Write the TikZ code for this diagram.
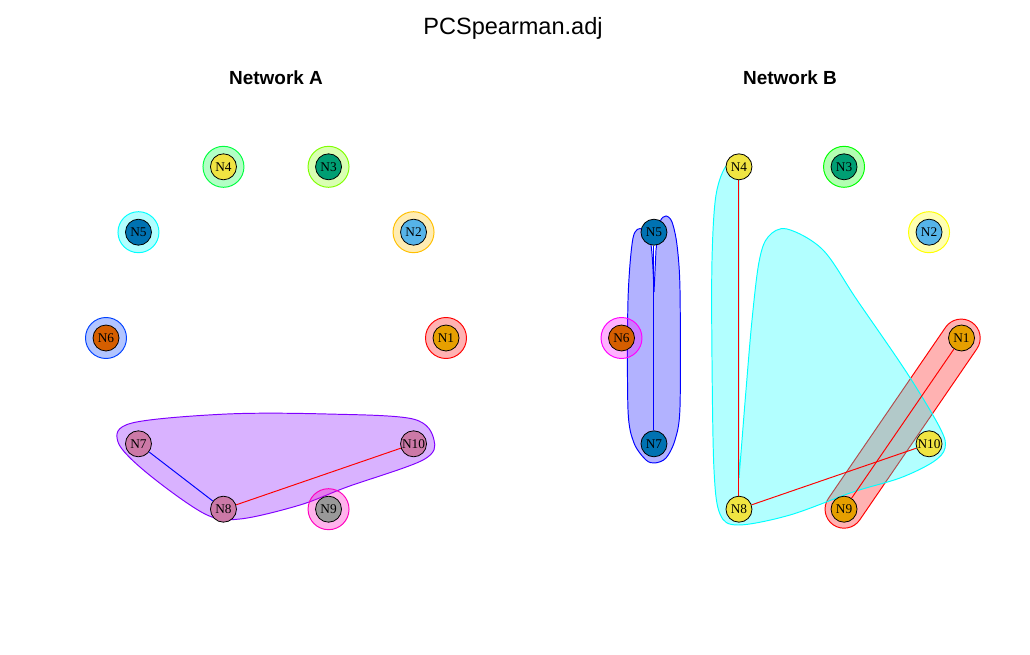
\documentclass[tikz,border=0pt]{standalone}
\usepackage{fontspec}
\setmainfont{Liberation Serif}
\newfontfamily\rsans{Liberation Sans}
\usetikzlibrary{calc}

% node colours
\definecolor{okOrange}{HTML}{E69F00}
\definecolor{okSky}{HTML}{56B4E9}
\definecolor{okGreen}{HTML}{009E73}
\definecolor{okYellow}{HTML}{F0E442}
\definecolor{okBlue}{HTML}{0072B2}
\definecolor{okVerm}{HTML}{D55E00}
\definecolor{okPink}{HTML}{CC79A7}
\definecolor{okGray}{HTML}{999999}
% group colours, network A
\definecolor{rbA1}{HTML}{FF0000}
\definecolor{rbA2}{HTML}{FFBF00}
\definecolor{rbA3}{HTML}{80FF00}
\definecolor{rbA4}{HTML}{00FF40}
\definecolor{rbA5}{HTML}{00FFFF}
\definecolor{rbA6}{HTML}{0040FF}
\definecolor{rbA7}{HTML}{8000FF}
\definecolor{rbA8}{HTML}{FF00BF}
% group colours, network B
\definecolor{rbB1}{HTML}{FF0000}
\definecolor{rbB2}{HTML}{FFFF00}
\definecolor{rbB3}{HTML}{00FF00}
\definecolor{rbB4}{HTML}{00FFFF}
\definecolor{rbB5}{HTML}{0000FF}
\definecolor{rbB6}{HTML}{FF00FF}

\pgfdeclarelayer{blob}
\pgfdeclarelayer{link}
\pgfsetlayers{blob,link,main}

\begin{document}
\begin{tikzpicture}[x=0.02cm,y=-0.02cm,
  vert/.style={circle,draw=black,line width=0.45pt,minimum size=0.52cm,inner sep=0pt,
    font=\fontsize{7.6}{7.6}\selectfont},
  grp/.style={draw=#1,fill=#1,fill opacity=0.3,line width=0.55pt},
  link/.style={line width=0.55pt}]
  \useasboundingbox (0,0) rectangle (1030,655);
  % Layout of the circle
  \def\cxA{276}
  \def\cxB{791.5}
  \def\cy{338}
  \def\rx{170}
  \def\ry{180}

  % Titles
  \node[anchor=base] (title) at (513,35) {\rsans\fontsize{13.4}{16}\selectfont PCSpearman.adj};
  \node[anchor=base] (titleA) at (276,85) {\rsans\bfseries\fontsize{10.8}{13}\selectfont Network A};
  \node[anchor=base] (titleB) at (790,85) {\rsans\bfseries\fontsize{10.8}{13}\selectfont Network B};

  % Network A: vertices on a circle
  \foreach \i/\c in {1/okOrange,2/okSky,3/okGreen,4/okYellow,5/okBlue,6/okVerm,7/okPink,8/okPink,9/okGray,10/okPink}
    \node[vert,fill=\c] (a\i) at ({\cxA+\rx*cos(36*(\i-1))},{\cy-\ry*sin(36*(\i-1))}) {N\i};

  % Network B: vertices on a circle
  \foreach \i/\c in {1/okOrange,2/okSky,3/okGreen,4/okYellow,5/okBlue,6/okVerm,7/okBlue,8/okYellow,9/okOrange,10/okYellow}
    \node[vert,fill=\c] (b\i) at ({\cxB+\rx*cos(36*(\i-1))},{\cy-\ry*sin(36*(\i-1))}) {N\i};

  % Groups of network A
  \begin{pgfonlayer}{blob}
    \foreach \i/\c in {1/rbA1,2/rbA2,3/rbA3,4/rbA4,5/rbA5,6/rbA6}
      \draw[grp=\c] (a\i) circle[radius=0.41cm];
    \draw[grp=rbA7] plot[smooth cycle, tension=0.55] coordinates {(118,442) (132,423) (227,414) (327,414)
      (413,419) (434,440) (423,460) (347,487) (300,505) (240,519) (205,514) (147,473)};
    \draw[grp=rbA8] (a9) circle[radius=0.41cm];
  \end{pgfonlayer}

  % Groups of network B
  \begin{pgfonlayer}{blob}
    \draw[grp=rbB1] (b9) ++(34.4:19) -- ++(-55.6:207.4) arc[start angle=34.4, end angle=-145.6, radius=19]
      -- ++(124.4:207.4) arc[start angle=-145.6, end angle=-325.6, radius=19] -- cycle;
    \draw[grp=rbB2] (b2) circle[radius=0.41cm];
    \draw[grp=rbB3] (b3) circle[radius=0.41cm];
    \draw[grp=rbB4] plot[smooth, tension=0.55] coordinates {(739,172) (727,165) (716,195) (712,260) (712,360)
      (714,470) (720,514) (738,525) (790,515) (853,492) (900,478) (933,462) (945,448) (940,428) (907,373)
      (857,300) (823,250) (787,229) (768,237) (759,262) (752,320) (746,390) (742,440) (739,478)} -- cycle;
    \draw[grp=rbB5] plot[smooth, tension=0.5] coordinates {(654,292) (651,245) (642,229) (633,238) (628,300)
      (628,410) (634,443) (646,460) (655,463) (666,458) (675,440) (680,407) (680,290) (677,245) (672,222)
      (666,216) (660,222) (656,250)} -- cycle;
    \draw[grp=rbB6] (b6) circle[radius=0.41cm];
  \end{pgfonlayer}

  % Edges
  \begin{pgfonlayer}{link}
    \draw[link,blue] (a7) -- (a8);
    \draw[link,red] (a8) -- (a10);
    \draw[link,blue] (b5) -- (b7);
    \draw[link,red] (b4) -- (b8);
    \draw[link,red] (b8) -- (b10);
    \draw[link,red] (b1) -- (b9);
  \end{pgfonlayer}
\end{tikzpicture}
\end{document}
